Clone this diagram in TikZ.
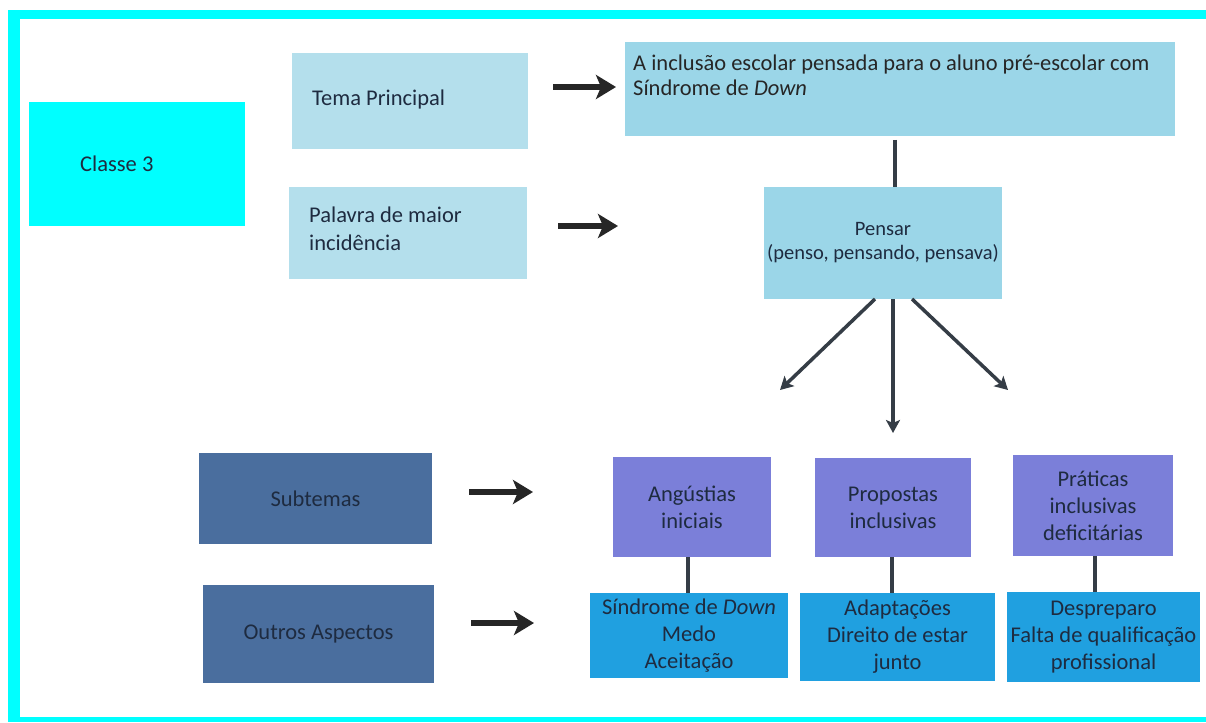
\documentclass[tikz,border=0pt]{standalone}
\usepackage{fontspec}
\setmainfont{Carlito}
\usetikzlibrary{arrows.meta}

\definecolor{frame}{HTML}{00FFFF}
\definecolor{lightbox}{HTML}{B4DFEC}
\definecolor{themebox}{HTML}{9BD6E8}
\definecolor{purplebox}{HTML}{7B7FD9}
\definecolor{bluebox}{HTML}{20A0E0}
\definecolor{darkbox}{HTML}{4A6E9E}
\definecolor{ink}{HTML}{1E2B40}
\definecolor{linkgray}{HTML}{353D46}

\tikzset{
  box/.style={anchor=north west, inner sep=0pt, outer sep=0pt, align=center,
              text=ink, font=\fontsize{22.5}{27}\selectfont},
  label/.style={anchor=west, inner sep=0pt, align=left, text=ink,
                font=\fontsize{22.5}{28}\selectfont},
  bigarrow/.style={line width=6pt, color=black!85,
                   -{Stealth[length=20pt, width=24pt, inset=5pt]}},
  fanarrow/.style={line width=3.5pt, color=linkgray,
                   -{Stealth[length=13pt, width=14pt, inset=3pt]}},
  link/.style={line width=4pt, color=linkgray}
}

\begin{document}
\begin{tikzpicture}[x=1pt, y=-1pt]
  \useasboundingbox (0,0) rectangle (1206,722);

  % cyan frame: left, top and bottom bands
  \fill[white] (0,0) rectangle (1206,722);
  \fill[frame] (8,10) rectangle (20,722);
  \fill[frame] (8,10) rectangle (1206,19);
  \fill[frame] (8,717) rectangle (1206,722);

  % left column: categories
  \node[box, fill=frame, minimum width=216pt, minimum height=124pt] (classe) at (29,102) {};
  \node[label] (classetxt) at (80,164) {Classe 3};

  \node[box, fill=lightbox, minimum width=236pt, minimum height=96pt] (tema) at (292,53) {};
  \node[label] (tematxt) at (312,100) {Tema Principal};

  \node[box, fill=lightbox, minimum width=238pt, minimum height=92pt] (palavra) at (289,187) {};
  \node[label] (palavratxt) at (309,229) {Palavra de maior\\incidência};

  \node[box, fill=darkbox, minimum width=233pt, minimum height=91pt] (sub) at (199,453) {Subtemas};
  \node[box, fill=darkbox, minimum width=231pt, minimum height=98pt] (outros) at (203,585) {Outros Aspectos};

  % main theme and keyword
  \node[box, fill=themebox, minimum width=550pt, minimum height=94pt] (top) at (625,42) {};
  \node[anchor=north west, inner sep=0pt, align=left, text=black!85,
        font=\fontsize{22.5}{25}\selectfont] (toptxt) at (633,55)
        {A inclusão escolar pensada para o aluno pré-escolar com\\Síndrome de \textit{Down}};

  \node[box, fill=themebox, minimum width=238pt, minimum height=112pt,
        font=\fontsize{20.5}{24}\selectfont] (pensar) at (764,187)
        {Pensar\\(penso, pensando, pensava)};

  % subthemes
  \node[box, fill=purplebox, minimum width=158pt, minimum height=100pt] (ang) at (613,457)
        {Angústias\\iniciais};
  \node[box, fill=purplebox, minimum width=156pt, minimum height=99pt] (prop) at (815,458)
        {Propostas\\inclusivas};
  \node[box, fill=purplebox, minimum width=160pt, minimum height=101pt] (prat) at (1013,455)
        {Práticas\\inclusivas\\deficitárias};

  % other aspects
  \node[box, fill=bluebox, minimum width=198pt, minimum height=85pt] (b1) at (590,593)
        {Síndrome de \textit{Down}\\Medo\\Aceitação};
  \node[box, fill=bluebox, minimum width=195pt, minimum height=88pt] (b2) at (800,593)
        {Adaptações\\Direito de estar\\junto};
  \node[box, fill=bluebox, minimum width=193pt, minimum height=90pt] (b3) at (1007,592)
        {Despreparo\\Falta de qualificação\\profissional};

  % free-standing pointer arrows
  \coordinate (a1s) at (553,87);  \coordinate (a1e) at (616,87);
  \coordinate (a2s) at (558,226); \coordinate (a2e) at (618,226);
  \coordinate (a3s) at (469,492); \coordinate (a3e) at (533,492);
  \coordinate (a4s) at (471,623); \coordinate (a4e) at (534,623);
  \draw[bigarrow] (a1s) -- (a1e);
  \draw[bigarrow] (a2s) -- (a2e);
  \draw[bigarrow] (a3s) -- (a3e);
  \draw[bigarrow] (a4s) -- (a4e);

  % theme to keyword
  \draw[link] ([xshift=-5pt]top.south) ++(0,4) -- ([xshift=-5pt]top.south |- pensar.north);

  % keyword fanning out to the subthemes
  \coordinate (fl) at (780,390);
  \coordinate (fm) at (893,433);
  \coordinate (fr) at (1008,390);
  \draw[fanarrow] ([xshift=-8pt]pensar.south) -- (fl);
  \draw[fanarrow] ([xshift=10pt]pensar.south) -- (fm);
  \draw[fanarrow] ([xshift=29pt]pensar.south) -- (fr);

  % subthemes to their aspects
  \draw[link] ([xshift=-4pt]ang.south) -- ([xshift=-4pt]ang.south |- b1.north);
  \draw[link] ([xshift=-1pt]prop.south) -- ([xshift=-1pt]prop.south |- b2.north);
  \draw[link] ([xshift=2pt]prat.south) -- ([xshift=2pt]prat.south |- b3.north);
\end{tikzpicture}
\end{document}
